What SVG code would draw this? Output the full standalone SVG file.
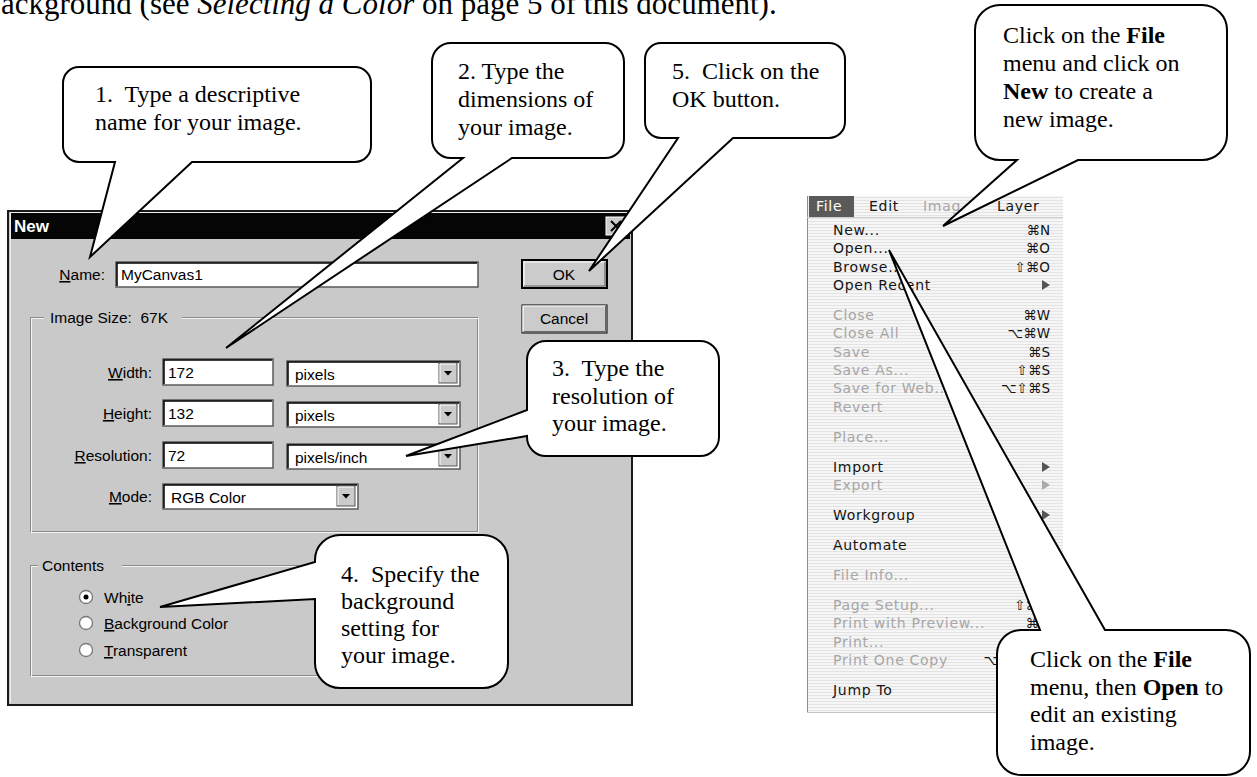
<svg xmlns="http://www.w3.org/2000/svg" xmlns:xlink="http://www.w3.org/1999/xlink" width="1257" height="777" viewBox="0 0 1257 777">
<defs>
<style>
.co{fill:#fff;stroke:#000;stroke-width:2;stroke-linejoin:miter}
.ct{font-family:"Liberation Serif","Times New Roman",serif;font-size:24px;fill:#000}
.dt{font-family:"Liberation Sans",Arial,sans-serif;font-size:15.5px;fill:#000}
.u{text-decoration:underline}
.fld{fill:#fff;stroke:#5a5a5a;stroke-width:1.5}
.etch{fill:none;stroke:#8a8a8a;stroke-width:1}
.etchw{fill:none;stroke:#f4f4f4;stroke-width:1}
.mi{font-family:"DejaVu Sans",Verdana,sans-serif;font-size:14px;letter-spacing:0.7px;fill:#141414}
.md{fill:#a6a6a6}
.sc{font-family:"DejaVu Sans",sans-serif;font-size:13.5px;text-anchor:end;fill:#141414}
.rad{fill:#fff;stroke:#777;stroke-width:1.3}
</style>
<pattern id="stripes" width="8" height="3" patternUnits="userSpaceOnUse">
<rect width="8" height="3" fill="#f6f6f6"/>
<rect y="2" width="8" height="1" fill="#e3e3e3"/>
</pattern>
<g id="ddbtn">
<rect x="0" y="0" width="18" height="20" fill="#cbcbcb" stroke="#555" stroke-width="1"/>
<path d="M1,19 V1 H17" fill="none" stroke="#fff" stroke-width="1"/>
<polygon points="5,8 13,8 9,12.5" fill="#000"/>
</g>
</defs>

<text x="1" y="14" font-family="'Liberation Serif','Times New Roman',serif" font-size="31" fill="#000">ackground (see <tspan font-style="italic">Selecting a Color</tspan> on page 5 of this document).</text>

<g id="dialog">
<rect x="8" y="211" width="624" height="494" fill="#c9c9c9" stroke="#1a1a1a" stroke-width="2"/>
<path d="M10.5,703 V212.5 H630" fill="none" stroke="#ededed" stroke-width="1"/>
<rect x="11" y="213" width="619" height="26" fill="#050505"/>
<text x="14" y="232" font-family="'Liberation Sans',Arial,sans-serif" font-weight="bold" font-size="17" fill="#fff">New</text>
<rect x="606" y="217" width="20" height="18" fill="#cbcbcb" stroke="#fff" stroke-width="1"/>
<path d="M611,221 L621,231 M621,221 L611,231" stroke="#000" stroke-width="2"/>

<text class="dt" x="105" y="280" text-anchor="end"><tspan class="u">N</tspan>ame:</text>
<rect class="fld" x="116" y="262" width="362" height="25"/>
<path d="M117,286 V263 H477" fill="none" stroke="#000" stroke-width="1.5"/>
<text class="dt" x="121" y="280">MyCanvas1</text>

<rect x="522" y="260" width="85" height="28" fill="#cbcbcb" stroke="#000" stroke-width="2"/>
<path d="M524,286 V262 H605" fill="none" stroke="#fff" stroke-width="1.2"/>
<path d="M524,286 H605 V262" fill="none" stroke="#666" stroke-width="1.2"/>
<text class="dt" x="564" y="280" text-anchor="middle">OK</text>
<rect x="522" y="305" width="85" height="28" fill="#cbcbcb" stroke="#000" stroke-width="1"/>
<path d="M523,332 V306 H606" fill="none" stroke="#fff" stroke-width="1.2"/>
<path d="M523.5,331.5 H605.5 V306" fill="none" stroke="#666" stroke-width="1"/>
<text class="dt" x="564" y="324" text-anchor="middle">Cancel</text>

<rect class="etch" x="30.5" y="317.5" width="447" height="214"/>
<rect class="etchw" x="31.5" y="318.5" width="447" height="214"/>
<rect x="44" y="308" width="138" height="18" fill="#c9c9c9"/>
<text class="dt" x="50" y="323" xml:space="preserve">Image Size:  67K</text>

<text class="dt" x="152" y="378" text-anchor="end"><tspan class="u">W</tspan>idth:</text>
<rect class="fld" x="163" y="359" width="110" height="26"/>
<path d="M164,384 V360 H272" fill="none" stroke="#000" stroke-width="1.5"/>
<text class="dt" x="168" y="378">172</text>
<rect class="fld" x="287" y="361" width="173" height="25"/>
<path d="M288,385 V362 H459" fill="none" stroke="#000" stroke-width="1.5"/>
<text class="dt" x="295" y="380">pixels</text>
<use xlink:href="#ddbtn" x="439" y="363"/>

<text class="dt" x="152" y="419" text-anchor="end"><tspan class="u">H</tspan>eight:</text>
<rect class="fld" x="163" y="400" width="110" height="26"/>
<path d="M164,425 V401 H272" fill="none" stroke="#000" stroke-width="1.5"/>
<text class="dt" x="168" y="419">132</text>
<rect class="fld" x="287" y="402" width="173" height="25"/>
<path d="M288,426 V403 H459" fill="none" stroke="#000" stroke-width="1.5"/>
<text class="dt" x="295" y="421">pixels</text>
<use xlink:href="#ddbtn" x="439" y="404"/>

<text class="dt" x="152" y="461" text-anchor="end"><tspan class="u">R</tspan>esolution:</text>
<rect class="fld" x="163" y="442" width="110" height="26"/>
<path d="M164,467 V443 H272" fill="none" stroke="#000" stroke-width="1.5"/>
<text class="dt" x="168" y="461">72</text>
<rect class="fld" x="287" y="444" width="173" height="25"/>
<path d="M288,468 V445 H459" fill="none" stroke="#000" stroke-width="1.5"/>
<text class="dt" x="295" y="463">pixels/inch</text>
<use xlink:href="#ddbtn" x="439" y="446"/>

<text class="dt" x="152" y="502" text-anchor="end"><tspan class="u">M</tspan>ode:</text>
<rect class="fld" x="163" y="484" width="195" height="25"/>
<path d="M164,508 V485 H357" fill="none" stroke="#000" stroke-width="1.5"/>
<text class="dt" x="171" y="503">RGB Color</text>
<use xlink:href="#ddbtn" x="337" y="486"/>

<rect class="etch" x="30.5" y="565.5" width="380" height="110"/>
<rect class="etchw" x="31.5" y="566.5" width="380" height="110"/>
<rect x="38" y="556" width="84" height="18" fill="#c9c9c9"/>
<text class="dt" x="42" y="571">Contents</text>
<circle class="rad" cx="86" cy="597" r="6.5"/>
<circle cx="86" cy="597" r="2.5" fill="#000"/>
<text class="dt" x="104" y="603">Wh<tspan class="u">i</tspan>te</text>
<circle class="rad" cx="86" cy="623" r="6.5"/>
<text class="dt" x="104" y="629"><tspan class="u">B</tspan>ackground Color</text>
<circle class="rad" cx="86" cy="650" r="6.5"/>
<text class="dt" x="104" y="656"><tspan class="u">T</tspan>ransparent</text>
</g>

<g id="menu">
<rect x="807" y="196" width="256" height="517" fill="url(#stripes)"/>
<line x1="807.5" y1="196" x2="807.5" y2="713" stroke="#8c8c8c"/>
<line x1="807" y1="712.5" x2="1063" y2="712.5" stroke="#c4c4c4"/>
<line x1="807" y1="217.5" x2="1063" y2="217.5" stroke="#d0d0d0"/>
<rect x="809" y="196" width="45" height="21" fill="#5a5a5a"/>
<text class="mi" x="816" y="211" style="fill:#fff">File</text>
<text class="mi" x="869" y="211">Edit</text>
<text class="mi md" x="923" y="211">Imag</text>
<text class="mi" x="997" y="211">Layer</text>

<text class="mi" x="833" y="235">New...</text><text class="sc" x="1050" y="235">⌘N</text>
<text class="mi" x="833" y="253">Open...</text><text class="sc" x="1050" y="253">⌘O</text>
<text class="mi" x="833" y="272">Browse...</text><text class="sc" x="1050" y="272">⇧⌘O</text>
<text class="mi" x="833" y="290">Open Recent</text><polygon points="1042,280 1050,285 1042,290" fill="#555"/>

<text class="mi md" x="833" y="320">Close</text><text class="sc md" x="1050" y="320">⌘W</text>
<text class="mi md" x="833" y="338">Close All</text><text class="sc md" x="1050" y="338">⌥⌘W</text>
<text class="mi md" x="833" y="357">Save</text><text class="sc md" x="1050" y="357">⌘S</text>
<text class="mi md" x="833" y="375">Save As...</text><text class="sc md" x="1050" y="375">⇧⌘S</text>
<text class="mi md" x="833" y="393">Save for Web...</text><text class="sc md" x="1050" y="393">⌥⇧⌘S</text>
<text class="mi md" x="833" y="412">Revert</text>
<text class="mi md" x="833" y="442">Place...</text>
<text class="mi" x="833" y="472">Import</text><polygon points="1042,462 1050,467 1042,472" fill="#555"/>
<text class="mi md" x="833" y="490">Export</text><polygon points="1042,480 1050,485 1042,490" fill="#aaa"/>
<text class="mi" x="833" y="520">Workgroup</text><polygon points="1042,510 1050,515 1042,520" fill="#555"/>
<text class="mi" x="833" y="550">Automate</text>
<text class="mi md" x="833" y="580">File Info...</text>
<text class="mi md" x="833" y="610">Page Setup...</text><text class="sc md" x="1039" y="610">⇧⌘</text>
<text class="mi md" x="833" y="628">Print with Preview...</text><text class="sc md" x="1039" y="628">⌘</text>
<text class="mi md" x="833" y="647">Print...</text>
<text class="mi md" x="833" y="665">Print One Copy</text><text class="sc md" x="999" y="665">⌥</text>
<text class="mi" x="833" y="695">Jump To</text>
</g>

<g id="callout1">
<path class="co" d="M79,67 H355 A16,16 0 0 1 371,83 V146 A16,16 0 0 1 355,162 H192 L90,257 L115,162 H79 A16,16 0 0 1 63,146 V83 A16,16 0 0 1 79,67 Z"/>
<text class="ct" xml:space="preserve"><tspan x="95" y="102">1.  Type a descriptive</tspan><tspan x="95" y="130">name for your image.</tspan></text>
</g>
<g id="callout2">
<path class="co" d="M451,43 H605 A19,19 0 0 1 624,62 V139 A19,19 0 0 1 605,158 H512 L226,348 L463,158 H451 A19,19 0 0 1 432,139 V62 A19,19 0 0 1 451,43 Z"/>
<text class="ct"><tspan x="458" y="79">2. Type the</tspan><tspan x="458" y="107">dimensions of</tspan><tspan x="458" y="135">your image.</tspan></text>
</g>
<g id="callout5">
<path class="co" d="M661,43 H829 A16,16 0 0 1 845,59 V122 A16,16 0 0 1 829,138 H733 L589,271 L678,138 H661 A16,16 0 0 1 645,122 V59 A16,16 0 0 1 661,43 Z"/>
<text class="ct" xml:space="preserve"><tspan x="672" y="79">5.  Click on the</tspan><tspan x="672" y="107">OK button.</tspan></text>
</g>
<g id="callout3">
<path class="co" d="M546,341 H700 A19,19 0 0 1 719,360 V437 A19,19 0 0 1 700,456 H546 A19,19 0 0 1 527,437 V436 L406,456 L527,410 V360 A19,19 0 0 1 546,341 Z"/>
<text class="ct" xml:space="preserve"><tspan x="552" y="376">3.  Type the</tspan><tspan x="552" y="404">resolution of</tspan><tspan x="552" y="431">your image.</tspan></text>
</g>
<g id="callout4">
<path class="co" d="M340,535 H483 A25,25 0 0 1 508,560 V663 A25,25 0 0 1 483,688 H340 A25,25 0 0 1 315,663 V599 L160,607 L315,562 V560 A25,25 0 0 1 340,535 Z"/>
<text class="ct" xml:space="preserve"><tspan x="341" y="582">4.  Specify the</tspan><tspan x="341" y="609">background</tspan><tspan x="341" y="636">setting for</tspan><tspan x="341" y="663">your image.</tspan></text>
</g>
<g id="callout-new">
<path class="co" d="M1000,5 H1202 A25,25 0 0 1 1227,30 V135 A25,25 0 0 1 1202,160 H1078 L943,226 L1017,160 H1000 A25,25 0 0 1 975,135 V30 A25,25 0 0 1 1000,5 Z"/>
<text class="ct"><tspan x="1003" y="43">Click on the <tspan font-weight="bold">File</tspan></tspan><tspan x="1003" y="71">menu and click on</tspan><tspan x="1003" y="99"><tspan font-weight="bold">New</tspan> to create a</tspan><tspan x="1003" y="127">new image.</tspan></text>
</g>
<g id="callout-open">
<path class="co" d="M1021,630 H1040 L889,250 L1105,630 H1226 A24,24 0 0 1 1250,654 V751 A24,24 0 0 1 1226,775 H1021 A24,24 0 0 1 997,751 V654 A24,24 0 0 1 1021,630 Z"/>
<text class="ct"><tspan x="1030" y="667">Click on the <tspan font-weight="bold">File</tspan></tspan><tspan x="1030" y="695">menu, then <tspan font-weight="bold">Open</tspan> to</tspan><tspan x="1030" y="722">edit an existing</tspan><tspan x="1030" y="750">image.</tspan></text>
</g>
</svg>
